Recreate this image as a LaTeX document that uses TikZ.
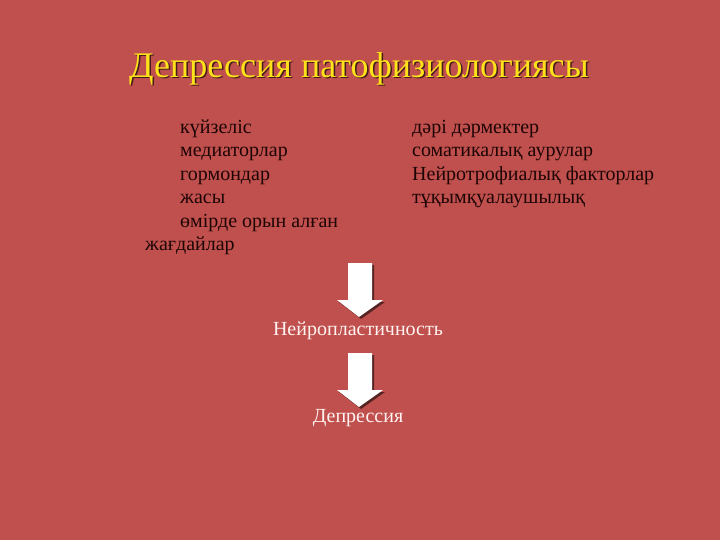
\documentclass[tikz,border=0pt]{standalone}
\usepackage{fontspec}
\setmainfont{Liberation Serif}
\definecolor{bg}{HTML}{C0504D}
\definecolor{ttl}{HTML}{FFE21A}
\definecolor{txt}{HTML}{1E0505}
\definecolor{wtxt}{HTML}{FFF2F0}
\tikzset{
  body/.style={anchor=base west, inner sep=0pt, text=txt, font=\fontsize{20}{22}\selectfont},
  wbody/.style={anchor=base, inner sep=0pt, text=wtxt, font=\fontsize{20}{22}\selectfont},
  blockarrow/.style={fill=white, draw=none},
  arrowshadow/.style={fill=black!55!bg, draw=none}
}
\begin{document}
\begin{tikzpicture}[x=1pt,y=-1pt]
\fill[bg] (0,0) rectangle (720,540);
\useasboundingbox (0,0) rectangle (720,540);
% title
\node[anchor=base, inner sep=0pt, text=black!65!bg, font=\fontsize{36}{40}\selectfont] at (360.5,79) {Депрессия патофизиологиясы};
\node (title) [anchor=base, inner sep=0pt, text=ttl, font=\fontsize{36}{40}\selectfont] at (359,77.5) {Депрессия патофизиологиясы};
% left column
\node (l1) [body] at (180,134) {күйзеліс};
\node (l2) [body] at (180,157) {медиаторлар};
\node (l3) [body] at (180,180.5) {гормондар};
\node (l4) [body] at (180,204) {жасы};
\node (l5) [body] at (180,228) {өмірде орын алған};
\node (l6) [body] at (145,250) {жағдайлар};
% right column
\node (r1) [body] at (412,134) {дәрі дәрмектер};
\node (r2) [body] at (412,157) {соматикалық аурулар};
\node (r3) [body] at (412,181) {Нейротрофиалық факторлар};
\node (r4) [body] at (412,204) {тұқымқуалаушылық};
% arrows
\fill[arrowshadow] (350,265) -- (374,265) -- (374,302) -- (385,302) -- (361,319) -- (339,302) -- (350,302) -- cycle;
\fill[blockarrow] (348,263) -- (372,263) -- (372,300) -- (383,300) -- (359,317) -- (337,300) -- (348,300) -- cycle;
\node (np) [wbody] at (358,335) {Нейропластичность};
\fill[arrowshadow] (350,355) -- (374,355) -- (374,392) -- (385,392) -- (361,409) -- (339,392) -- (350,392) -- cycle;
\fill[blockarrow] (348,353) -- (372,353) -- (372,390) -- (383,390) -- (359,407) -- (337,390) -- (348,390) -- cycle;
\node (dep) [wbody] at (358,422) {Депрессия};
\end{tikzpicture}
\end{document}
